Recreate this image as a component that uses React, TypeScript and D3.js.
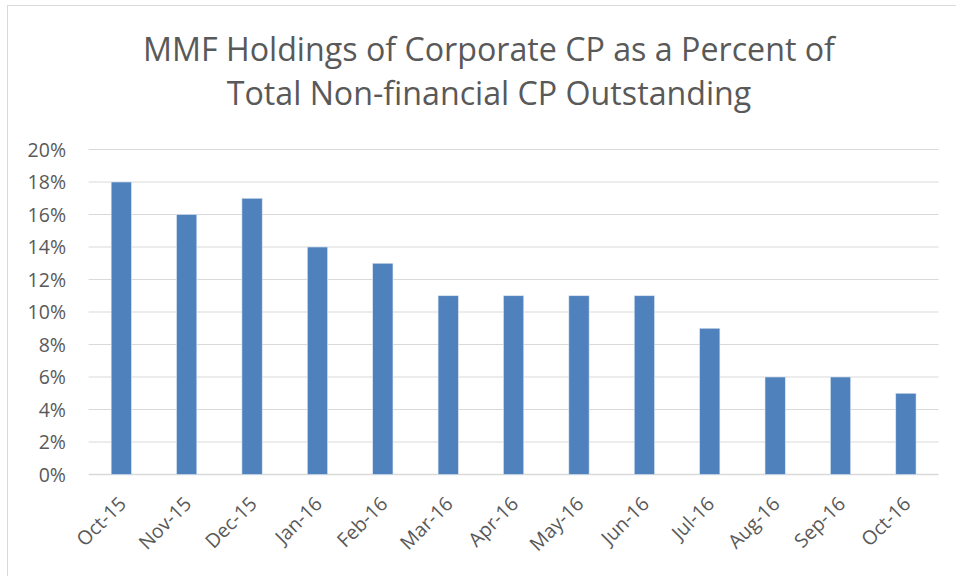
import React from "react";
import * as d3 from "d3";

const categories = ["Oct-15","Nov-15","Dec-15","Jan-16","Feb-16","Mar-16","Apr-16","May-16","Jun-16","Jul-16","Aug-16","Sep-16","Oct-16"];
const values = [18,16,17,14,13,11,11,11,11,9,6,6,5];
const yTicks = [0,2,4,6,8,10,12,14,16,18,20];
const titleLines = ["MMF Holdings of Corporate CP as a Percent of", "Total Non-financial CP Outstanding"];

const W = 956, H = 576;
const margin = { left: 88.6, right: 956 - 938.6, top: 149.5, bottom: 576 - 474.5 };
const FONT = "'Open Sans', 'Noto Sans', sans-serif";

export default function App() {
  const x = d3.scaleBand<string>().domain(categories).range([margin.left, W - margin.right]).paddingInner(0.69).paddingOuter(0.345);
  const y = d3.scaleLinear().domain([0, 20]).range([H - margin.bottom, margin.top]);
  return (
    <svg width={W} height={H} style={{ position: "absolute", left: 0, top: 0, background: "#fff" }}>
      <rect x={7.5} y={5.5} width={W + 10} height={H + 10} fill="#fff" stroke="#d9d9d9" strokeWidth={1} />
      {titleLines.map((t, i) => (
        <text key={i} x={489} y={61 + i * 44} textAnchor="middle" fontFamily={FONT} fontSize={32.2} fill="#595959">{t}</text>
      ))}
      {yTicks.map((t) => (
        <g key={t}>
          <line x1={margin.left} x2={W - margin.right} y1={y(t)} y2={y(t)} stroke="#d9d9d9" strokeWidth={t === 0 ? 1.5 : 1} />
          <text x={66} y={y(t)} dy="0.36em" textAnchor="end" fontFamily={FONT} fontSize={19.5} fill="#595959">{t + "%"}</text>
        </g>
      ))}
      {categories.map((c, i) => (
        <rect key={c} x={x(c)} y={y(values[i])} width={x.bandwidth()} height={y(0) - y(values[i])} fill="#4f81bd" stroke="#dce6f2" strokeWidth={0.6} />
      ))}
      {categories.map((c) => {
        const cx = (x(c) as number) + x.bandwidth() / 2;
        return (
          <text key={c} transform={`translate(${cx + 6},${505}) rotate(-45)`} textAnchor="end" fontFamily={FONT} fontSize={19.5} fill="#595959">{c}</text>
        );
      })}
    </svg>
  );
}
